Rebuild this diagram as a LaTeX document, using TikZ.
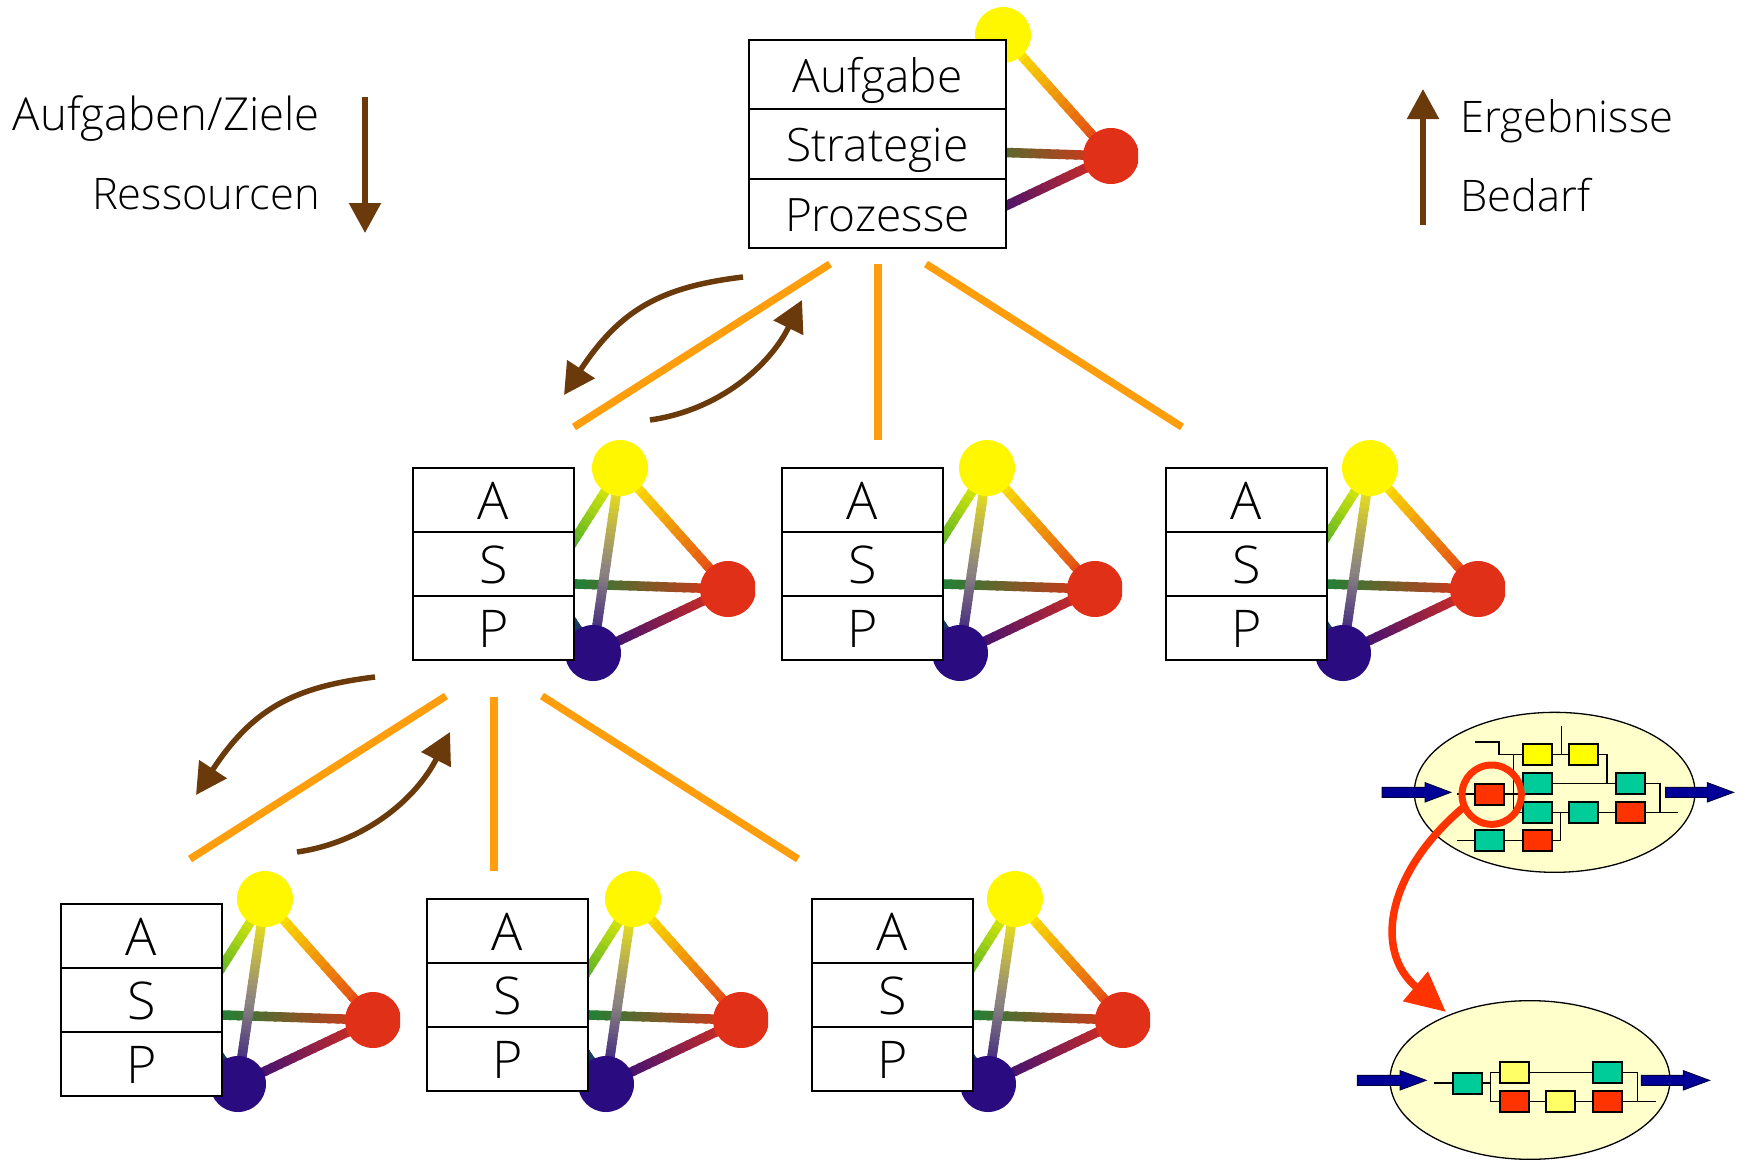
\documentclass[tikz,border=0pt]{standalone}
\usepackage{fontspec}
\setmainfont{Open Sans Light}
\usetikzlibrary{calc,arrows.meta}
\definecolor{tyellow}{HTML}{FFF700}
\definecolor{tred}{HTML}{E03018}
\definecolor{tblue}{HTML}{2A0C80}
\definecolor{tgreen}{HTML}{008F3C}
\definecolor{tgrey}{HTML}{8C8480}
\definecolor{brownarrow}{HTML}{6B3A0A}
\definecolor{orangeline}{HTML}{FF9E0C}
\definecolor{procbg}{HTML}{FFFFCC}
\definecolor{pred}{HTML}{FF3300}
\definecolor{pgreen}{HTML}{00CC99}
\definecolor{pyellow}{HTML}{FFFF00}
\definecolor{pyellowb}{HTML}{FFFF66}
\definecolor{pblue}{HTML}{000099}
\tikzset{
  edgeline/.style={line width=9.5pt,line cap=butt},
  vertex/.style={circle,minimum size=56pt,inner sep=0pt,fill=#1},
  cell/.style={draw=black,line width=1.6pt,fill=white,minimum width=#1,inner sep=0pt},
  bigcell/.style={cell=257pt,minimum height=69.5pt,text height=35.5pt,text depth=0pt,font=\fontsize{46}{50}\selectfont},
  smallcell/.style={cell=161pt,minimum height=64pt,text height=38pt,text depth=0pt,font=\fontsize{52}{56}\selectfont},
  legend/.style={font=\fontsize{43.5}{48}\selectfont,inner sep=0pt},
  treeline/.style={draw=orangeline,line width=7.5pt},
  flowarrow/.style={draw=brownarrow,line width=5.5pt,-{Triangle[length=31pt,width=32pt]}},
  legendarrow/.style={draw=brownarrow,line width=5.5pt,-{Triangle[length=30pt,width=31pt]}},
  wire/.style={draw=black,line width=1.3pt},
  pbox/.style={draw=black,line width=1.7pt,fill=#1,minimum width=29pt,minimum height=21pt,inner sep=0pt},
  blockarrow/.style={fill=pblue,draw=black!60!pblue,line width=1pt},
  procell/.style={draw=black,line width=1.3pt,fill=procbg},
}
\newcommand\gedge[4]{%
  \foreach \t [evaluate=\t as \pc using int(\t*100/19),
               evaluate=\t as \ta using \t/20,
               evaluate=\t as \tb using (\t+1.3)/20] in {0,...,19}{%
    \draw[edgeline,draw={#4!\pc!#3}] ($(#1)!\ta!(#2)$) -- ($(#1)!\tb!(#2)$);}}
\newcommand\tetra[3]{%
  \begin{scope}
  \clip ({#2-120},{#3-30}) rectangle ({#2+135},{#3+215});
  \coordinate (#1y) at (#2,#3);
  \coordinate (#1r) at ({#2+108},{#3+121});
  \coordinate (#1b) at ({#2-27},{#3+185});
  \coordinate (#1g) at ({#2-73},{#3+115});
  \coordinate (#1m) at ($(#1y)!0.55!(#1b)$);
  \gedge{#1y}{#1g}{tyellow}{tgreen}
  \gedge{#1g}{#1b}{tgreen}{tblue}
  \gedge{#1g}{#1r}{tgreen}{tred}
  \gedge{#1y}{#1r}{tyellow}{tred}
  \gedge{#1y}{#1m}{tyellow}{tgrey}
  \gedge{#1m}{#1b}{tgrey}{tblue}
  \gedge{#1b}{#1r}{tblue}{tred}
  \node[vertex=tyellow] (#1vy) at (#1y) {};
  \node[vertex=tred] (#1vr) at (#1r) {};
  \node[vertex=tblue] (#1vb) at (#1b) {};
  \end{scope}}
\newcommand\asp[3]{% name, left x, top y
  \node[smallcell] (#1A) at ({#2+80.5},{#3+32}) {A};
  \node[smallcell] (#1S) at ({#2+80.5},{#3+96}) {S};
  \node[smallcell] (#1P) at ({#2+80.5},{#3+160}) {P};}
\newcommand\blockarrow[5]{% x0, head-base x, tip x, y centre (zoom units)
  \filldraw[blockarrow] (#1,#4-15) -- (#2,#4-15) -- (#2,#4-29) -- (#3,#4) -- (#2,#4+29) -- (#2,#4+15) -- (#1,#4+15) -- cycle;}
\newcommand\pb[6]{% name, xl, yt, xr, yb, colour
  \node[pbox=#6] (#1) at ({(#2+#4)/2},{(#3+#5)/2}) {};}
\begin{document}
\begin{tikzpicture}[x=1pt,y=-1pt]
\useasboundingbox (0,0) rectangle (1745,1159);
% tetrahedra
\tetra{t}{1003}{35}
\tetra{ma}{620}{468}
\tetra{mb}{987}{468}
\tetra{mc}{1370}{468}
\tetra{ba}{265}{899}
\tetra{bb}{633}{899}
\tetra{bc}{1015}{899}
% top box
\node[bigcell] (top1) at (877.5,74.5) {Aufgabe};
\node[bigcell] (top2) at (877.5,144) {Strategie};
\node[bigcell] (top3) at (877.5,213.5) {Prozesse};
% ASP boxes
\asp{ma}{413}{468}
\asp{mb}{782}{468}
\asp{mc}{1166}{468}
\asp{ba}{61}{904}
\asp{bb}{427}{899}
\asp{bc}{812}{899}
% tree lines
\coordinate (t1) at (830,264); \coordinate (m1) at (574,427);
\coordinate (t2) at (878,264); \coordinate (m2) at (878,440);
\coordinate (t3) at (926,264); \coordinate (m3) at (1182,427);
\coordinate (u1) at (446,696); \coordinate (l1) at (190,859);
\coordinate (u2) at (494,697); \coordinate (l2) at (494,871);
\coordinate (u3) at (542,696); \coordinate (l3) at (798,859);
\foreach \a/\b in {t1/m1,t2/m2,t3/m3,u1/l1,u2/l2,u3/l3}{\draw[treeline] (\a) -- (\b);}
% flow arrows
\coordinate (fa1) at (743,277); \coordinate (fa2) at (564,395);
\coordinate (fb1) at (650,420); \coordinate (fb2) at (802,300);
\coordinate (fc1) at (375,677); \coordinate (fc2) at (196,795);
\coordinate (fd1) at (297,852); \coordinate (fd2) at (450,732);
\draw[flowarrow] (fa1) .. controls (660,287) and (620,310) .. (fa2);
\draw[flowarrow] (fb1) .. controls (720,410) and (770,365) .. (fb2);
\draw[flowarrow] (fc1) .. controls (292,687) and (252,710) .. (fc2);
\draw[flowarrow] (fd1) .. controls (367,842) and (417,797) .. (fd2);
% legends
\node[legend,anchor=base east,font=\fontsize{45.5}{50}\selectfont] (l1t) at (320,130) {Aufgaben/Ziele};
\node[legend,anchor=base east] (l2t) at (320,209) {Ressourcen};
\node[legend,anchor=base west] (r1t) at (1460,132) {Ergebnisse};
\node[legend,anchor=base west] (r2t) at (1460,211) {Bedarf};
\coordinate (la1) at (365,97); \coordinate (la2) at (365,233);
\coordinate (ra1) at (1423,225); \coordinate (ra2) at (1423,89);
\draw[legendarrow] (la1) -- (la2);
\draw[legendarrow] (ra1) -- (ra2);
% process 1
\begin{scope}[shift={(1370,700)},x=0.3333pt,y=-0.3333pt]
\draw[procell] (554,277) ellipse [x radius=421,y radius=240];
\draw[wire] (315,126) -- (387,126) -- (387,164) -- (458,164);
\draw[wire] (430,164) -- (430,338) -- (458,338);
\draw[wire] (545,164) -- (598,164);
\draw[wire] (575,78) -- (575,164);
\draw[wire] (685,164) -- (711,164) -- (711,251);
\draw[wire] (545,251) -- (738,251);
\draw[wire] (826,251) -- (870,251) -- (870,338);
\draw[wire] (261,282) -- (458,282);
\draw[wire] (545,338) -- (598,338);
\draw[wire] (685,338) -- (738,338);
\draw[wire] (826,338) -- (925,338);
\draw[wire] (261,422) -- (458,422);
\draw[wire] (545,422) -- (572,422) -- (572,338);
\pb{pa1}{458}{133}{545}{196}{pyellow}
\pb{pa2}{598}{133}{685}{196}{pyellow}
\pb{pa3}{458}{219}{545}{282}{pgreen}
\pb{pa4}{738}{219}{826}{282}{pgreen}
\pb{pa5}{316}{251}{403}{314}{pred}
\pb{pa6}{458}{305}{545}{368}{pgreen}
\pb{pa7}{598}{305}{685}{368}{pgreen}
\pb{pa8}{738}{305}{826}{368}{pred}
\pb{pa9}{316}{391}{403}{454}{pgreen}
\pb{pa10}{458}{391}{545}{454}{pred}
\blockarrow{36}{165}{242}{277}{}
\blockarrow{887}{1012}{1090}{277}{}
\draw[draw=pred,line width=7pt] (365,284) circle [radius=89];
\end{scope}
% process 2
\begin{scope}[shift={(1340,960)},x=0.3333pt,y=-0.3333pt]
\draw[procell] (570,360) ellipse [x radius=420,y radius=238];
\draw[wire] (283,369) -- (338,369);
\draw[wire] (426,369) -- (452,369);
\draw[wire] (479,338) -- (452,338) -- (452,424) -- (479,424);
\draw[wire] (568,338) -- (759,338);
\draw[wire] (847,338) -- (892,338) -- (892,424);
\draw[wire] (568,424) -- (618,424);
\draw[wire] (707,424) -- (759,424);
\draw[wire] (847,424) -- (947,424);
\pb{pb1}{338}{337}{426}{402}{pgreen}
\pb{pb2}{479}{305}{568}{370}{pyellowb}
\pb{pb3}{759}{305}{847}{370}{pgreen}
\pb{pb4}{479}{392}{568}{456}{pred}
\pb{pb5}{618}{392}{707}{456}{pyellowb}
\pb{pb6}{759}{392}{847}{456}{pred}
\blockarrow{52}{180}{258}{361}{}
\blockarrow{904}{1030}{1108}{361}{}
\end{scope}
% refinement arrow
\coordinate (ca) at (1465,806); \coordinate (cb) at (1446,1012);
\draw[draw=pred,line width=7.5pt,-{Triangle[length=40pt,width=37pt]}] (ca) .. controls (1388,870) and (1372,950) .. (cb);
\end{tikzpicture}
\end{document}
